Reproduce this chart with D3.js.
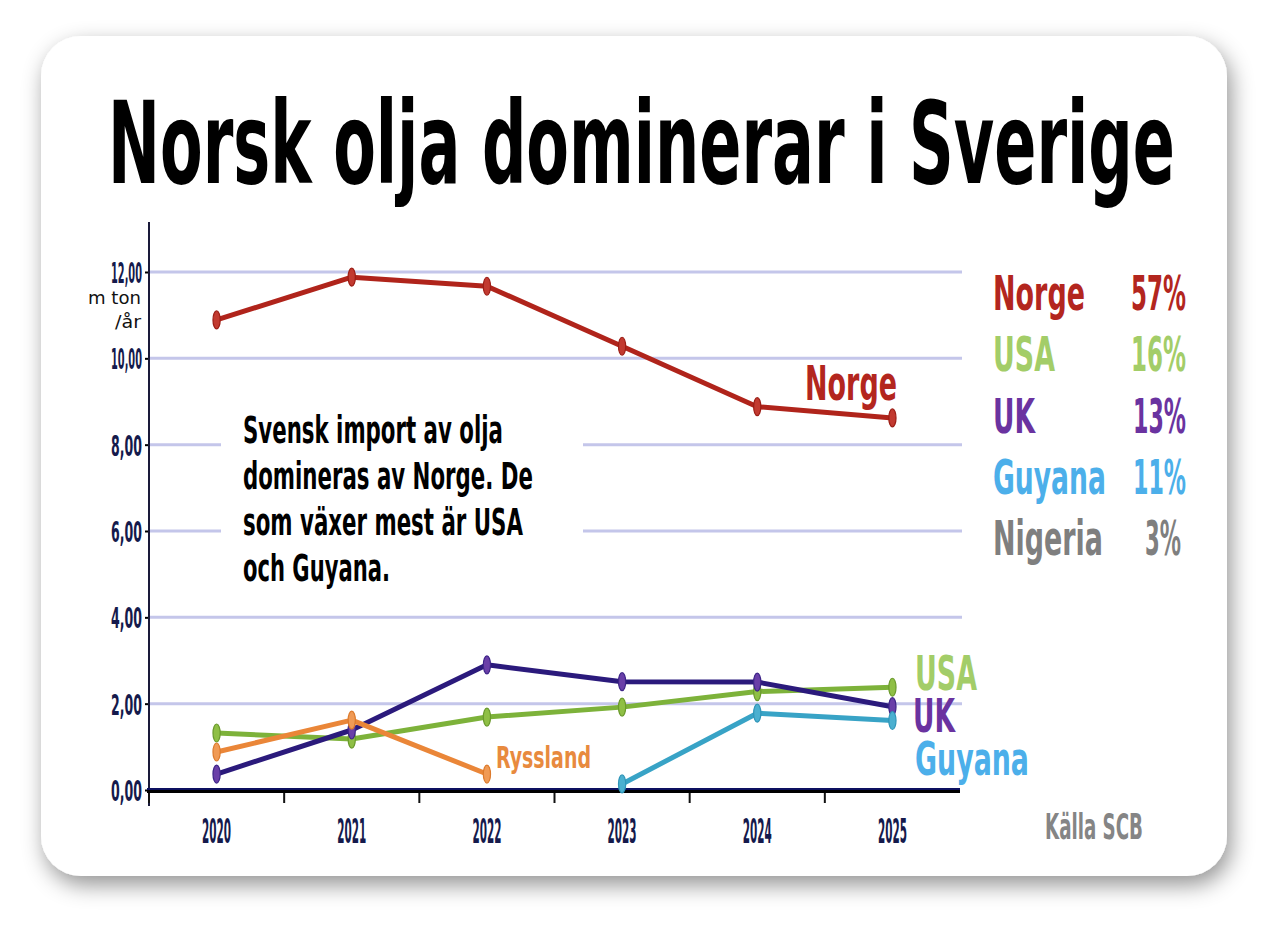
<!DOCTYPE html>
<html><head><meta charset="utf-8">
<script src="https://cdn.jsdelivr.net/npm/d3@7"></script>
<style>
html,body{margin:0;padding:0;background:#fff;}
svg{display:block;}
</style></head>
<body>
<script>
// ---- DATA ----
const years = ["2020","2021","2022","2023","2024","2025"];
const norge   = [10.89, 11.88, 11.67, 10.28, 8.88, 8.62];
const usa     = [1.32, 1.18, 1.69, 1.92, 2.28, 2.38];
const uk      = [0.37, 1.39, 2.90, 2.51, 2.50, 1.93];
const ryssland= [0.88, 1.62, 0.37, null, null, null];
const guyana  = [null, null, null, 0.14, 1.78, 1.61];
const yTicks  = [0, 2, 4, 6, 8, 10, 12];
const legendNames = ["Norge","USA","UK","Guyana","Nigeria"];
const legendShares = ["57%","16%","13%","11%","3%"];
const title = "Norsk olja dominerar i Sverige";
const noteLines = ["Svensk import av olja","domineras av Norge. De","som växer mest är USA","och Guyana."];
const source = "Källa SCB";
const unitLines = ["m ton","/år"];

const COND = "'Liberation Sans Narrow','DejaVu Sans Condensed','Roboto Condensed',sans-serif";

const W = 1270, H = 930;
const svg = d3.select("body").append("svg").attr("width", W).attr("height", H);
const defs = svg.append("defs");
const f = defs.append("filter").attr("id","sh").attr("x","-10%").attr("y","-10%").attr("width","125%").attr("height","130%");
f.append("feDropShadow").attr("dx",4).attr("dy",9).attr("stdDeviation",11).attr("flood-color","#000").attr("flood-opacity",0.42);

// card
svg.append("rect").attr("x",41).attr("y",36).attr("width",1186).attr("height",840).attr("rx",40)
  .attr("fill","#fff").attr("filter","url(#sh)");

// condensed text: natural glyphs scaled horizontally to a target width
function txt(g, s, x, y, size, color, anchor, targetW, weight, family){
  const t = g.append("text").attr("x",0).attr("y",0).text(s)
    .attr("font-family", family || COND).attr("font-weight", weight || "bold")
    .attr("font-size", size).attr("fill", color).attr("text-anchor", anchor || "start");
  let sx = 1;
  if (targetW) {
    const w = t.node().getComputedTextLength();
    if (w > 0) sx = targetW / w;
  }
  t.attr("transform", `translate(${x},${y}) scale(${sx},1)`);
  return t;
}

// title
txt(svg, title, 108, 183, 114, "#000", "start", 1067);

// scales
const x = d3.scaleBand().domain(years).range([149, 960]).padding(0);
const cx = d => x(d) + x.bandwidth()/2;
const y = d3.scaleLinear().domain([0, 12]).range([790, 272]);

// gridlines
const grid = svg.append("g");
grid.selectAll("line").data(yTicks.filter(v => v > 0)).join("line")
  .attr("x1", 149).attr("x2", 962)
  .attr("y1", d => y(d)).attr("y2", d => y(d))
  .attr("stroke", "#c4c6ea").attr("stroke-width", 3);

// white note box covering gridlines
svg.append("rect").attr("x",221).attr("y",392).attr("width",362).attr("height",205).attr("fill","#fff");

// y axis
const fmt = d => d3.format(".2f")(d).replace(".", ",");
const yAxis = d3.axisLeft(y).tickValues(yTicks).tickSize(4).tickPadding(6).tickFormat(fmt);
const gy = svg.append("g").attr("transform","translate(149,0)").call(yAxis);
gy.select(".domain").remove();
gy.selectAll(".tick line").attr("stroke","#000").attr("stroke-width",2);
gy.selectAll(".tick text").each(function(){
  const t = d3.select(this);
  t.attr("font-family", COND).attr("font-weight","bold").attr("font-size", 29)
   .attr("fill", "#151a4c").attr("dy","0.36em").attr("x",0).attr("text-anchor","end");
  const w = this.getComputedTextLength();
  t.attr("transform", `translate(-7,0) scale(${31/w},1)`);
});
svg.append("line").attr("x1",149).attr("x2",149).attr("y1",222).attr("y2",806)
  .attr("stroke","#1a1a3a").attr("stroke-width",2);

// unit label
unitLines.forEach((s,i) => {
  txt(svg, s, 141, 304 + i*24, 17, "#111", "end", i === 0 ? 53 : 26, "normal", "'DejaVu Sans','Open Sans',sans-serif");
});

// x axis ticks at band edges
const edges = years.map(d => x(d));
svg.append("g").selectAll("line").data(edges).join("line")
  .attr("x1", d => d).attr("x2", d => d).attr("y1", 790).attr("y2", 803)
  .attr("stroke","#111").attr("stroke-width",2);
// baseline
svg.append("line").attr("x1",147).attr("x2",960).attr("y1",791).attr("y2",791)
  .attr("stroke","#000").attr("stroke-width",4);
svg.append("line").attr("x1",147).attr("x2",960).attr("y1",789).attr("y2",789)
  .attr("stroke","#0d1060").attr("stroke-width",2);

// x labels
const xAxis = d3.axisBottom(x).tickSize(0).tickPadding(0);
const gx = svg.append("g").attr("transform","translate(0,843)").call(xAxis);
gx.select(".domain").remove();
gx.selectAll(".tick text").each(function(){
  const t = d3.select(this);
  t.attr("y",0).attr("dy",0).attr("x",0).attr("font-family", COND).attr("font-weight","bold")
   .attr("font-size", 33).attr("fill","#151a4c").attr("text-anchor","middle");
  const w = this.getComputedTextLength();
  t.attr("transform", `scale(${29/w},1)`);
});

// series
const series = [
  {vals: usa, line:"#7db23a", mark:"#8fbf45", stroke:"#6a9a2c"},
  {vals: uk, line:"#2b1a7c", mark:"#6a3fa8", stroke:"#3d2488"},
  {vals: ryssland, line:"#ea8638", mark:"#f09a55", stroke:"#dc7a2c"},
  {vals: guyana, line:"#38a3c6", mark:"#4bb0d0", stroke:"#2f95b8"},
  {vals: norge, line:"#b0241b", mark:"#c23a30", stroke:"#9c1d15"}
];
const lineGen = d3.line().defined(d => d.v != null).x(d => cx(d.year)).y(d => y(d.v));
series.forEach(s => {
  const pts = years.map((yr,i) => ({year: yr, v: s.vals[i]}));
  svg.append("path").datum(pts).attr("d", lineGen).attr("fill","none")
    .attr("stroke", s.line).attr("stroke-width", 5).attr("stroke-linejoin","round");
  svg.append("g").selectAll("ellipse").data(pts.filter(d => d.v != null)).join("ellipse")
    .attr("cx", d => cx(d.year)).attr("cy", d => y(d.v)).attr("rx", 3.6).attr("ry", 9)
    .attr("fill", s.mark).attr("stroke", s.stroke).attr("stroke-width", 1.2);
});

// note
const noteLens = [260, 290, 280, 147];
noteLines.forEach((s,i) => {
  txt(svg, s, 243, 443 + i*46, 37, "#000", "start", noteLens[i]);
});

// series labels
txt(svg, "Norge", 805, 400, 48, "#b3261e", "start", 92);
txt(svg, "USA", 915, 690, 48, "#a3cd68", "start", 62);
txt(svg, "UK", 913, 732, 47, "#6a33a0", "start", 42);
txt(svg, "Guyana", 915, 775, 47, "#4cafea", "start", 114);
txt(svg, "Ryssland", 496, 768, 31, "#e88a3e", "start", 95);

// legend
const legColors = ["#b3261e","#a3cd68","#6a33a0","#4cafea","#7f7f7f"];
const nameLens = [92, 62, 42, 113, 110];
const shareLens = [55, 55, 53, 53, 36];
legendNames.forEach((n,i) => {
  const by = 310 + i*61.3;
  txt(svg, n, 993, by, 48, legColors[i], "start", nameLens[i]);
  txt(svg, legendShares[i], i === 4 ? 1181 : 1186, by, 48, legColors[i], "end", shareLens[i]);
});

// source
txt(svg, source, 1045, 839, 35, "#858585", "start", 98);
</script>
</body></html>
